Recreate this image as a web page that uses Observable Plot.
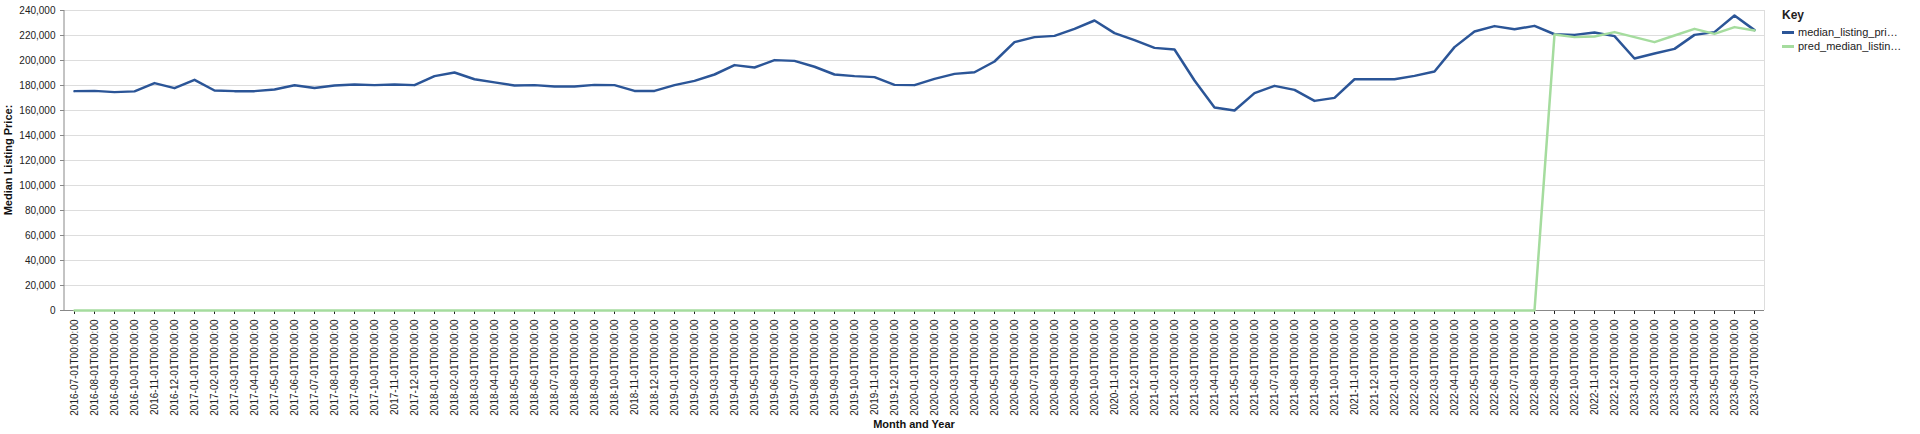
<!DOCTYPE html>
<html>
<head>
<meta charset="utf-8">
<script src="https://cdn.jsdelivr.net/npm/d3@7"></script>
<script src="https://cdn.jsdelivr.net/npm/@observablehq/plot@0.6"></script>
<style>
  body { margin: 0; font-family: "Liberation Sans", Arial, sans-serif; background: #fff; }
  #wrap { position: relative; width: 1920px; height: 434px; }
  #legend { position: absolute; left: 1782px; top: 8px; font-size: 11px; color: #222; }
  #legend .title { font-weight: bold; font-size: 12px; margin-bottom: 3px; }
  #legend .row { display: flex; align-items: center; height: 14px; }
  #legend .sw { width: 12px; height: 3px; margin-right: 4px; }
</style>
</head>
<body>
<div id="wrap"><div id="chart"></div><div id="legend"></div></div>
<script>
const months = d3.range(85).map(i => {
  const y = 2016 + Math.floor((6 + i) / 12);
  const m = (6 + i) % 12 + 1;
  return `${y}-${String(m).padStart(2, "0")}-01T00:00:00`;
});

const actual = [
  175.5, 175.7, 174.7, 175.3, 181.9, 177.9, 184.5, 176, 175.5, 175.5,
  176.8, 180.2, 178, 180, 180.8, 180.3, 180.8, 180.3, 187.5, 190.4,
  185, 182.5, 180, 180.3, 179.2, 179.2, 180.5, 180.3, 175.7, 175.7,
  180.3, 183.7, 188.8, 196.3, 194.4, 200.3, 199.7, 195, 188.8, 187.5,
  186.7, 180.5, 180.3, 185.3, 189.3, 190.6, 199.2, 214.7, 218.7, 219.7,
  225.3, 232, 221.9, 216.3, 210.1, 208.8, 184, 162.4, 160, 173.9,
  179.7, 176.5, 167.7, 170.1, 185, 185, 185, 187.7, 191.2, 210.7,
  223.2, 227.5, 225, 227.7, 221, 220.5, 222.4, 219.5, 201.6, 205.6,
  209.3, 220.5, 222.7, 236, 224.3
].map(v => v * 1000);

const predTail = [220.8, 218.7, 219.2, 222.7, 218.7, 214.7, 220, 225.3, 221.3, 226.7, 224].map(v => v * 1000);
const predicted = [...Array(74).fill(0), ...predTail];

const series = [
  {key: "median_listing_pri…", color: "#2b5597", values: actual},
  {key: "pred_median_listin…", color: "#a5dc9e", values: predicted}
];

const rows = series.flatMap(s => s.values.map((v, i) => ({month: months[i], value: v, key: s.key})));

const chart = Plot.plot({
  width: 1780,
  height: 434,
  marginLeft: 64,
  marginRight: 16,
  marginTop: 10,
  marginBottom: 124,
  style: {fontFamily: "Liberation Sans, Arial, sans-serif", fontSize: "10px", color: "#222"},
  x: {type: "point", domain: months, padding: 0.5, tickRotate: -90, label: null, tickSize: 4},
  y: {domain: [0, 240000], ticks: d3.range(0, 240001, 20000), tickFormat: d3.format(","), label: null, grid: true, tickSize: 4},
  color: {domain: series.map(s => s.key), range: series.map(s => s.color)},
  marks: [
    Plot.gridY(d3.range(0, 240001, 20000), {stroke: "#ddd", strokeOpacity: 1}),
    Plot.ruleX([months[84]], {stroke: "#ddd", dx: 10}),
    Plot.ruleY([0], {stroke: "#888"}),
    Plot.axisY({ticks: d3.range(0, 240001, 20000), tickFormat: d3.format(","), label: null, tickSize: 4, stroke: "#888"}),
    Plot.ruleX([0], {x: () => null, frameAnchor: "left", stroke: "#888"}),
    Plot.line(rows, {x: "month", y: "value", stroke: "key", strokeWidth: 2.5, z: "key"})
  ]
});
d3.select(chart).append("line").attr("x1", 64).attr("x2", 64).attr("y1", 10).attr("y2", 310).attr("stroke", "#888");
d3.select(chart).append("text").attr("transform", "translate(12,160) rotate(-90)").attr("text-anchor", "middle")
  .attr("font-weight", "bold").attr("font-size", 11).attr("fill", "#111").text("Median Listing Price:");
d3.select(chart).append("text").attr("x", 914).attr("y", 428).attr("text-anchor", "middle")
  .attr("font-weight", "bold").attr("font-size", 11).attr("fill", "#111").text("Month and Year");
document.getElementById("chart").append(chart);

const legend = d3.select("#legend");
legend.append("div").attr("class", "title").text("Key");
series.forEach(s => {
  const r = legend.append("div").attr("class", "row");
  r.append("div").attr("class", "sw").style("background", s.color);
  r.append("span").text(s.key);
});
</script>
</body>
</html>
